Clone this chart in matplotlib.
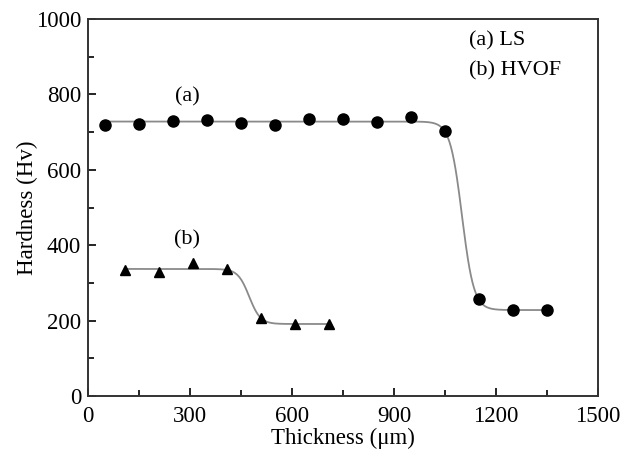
import numpy as np
import matplotlib.pyplot as plt
from matplotlib.ticker import MultipleLocator

plt.rcParams['font.family'] = ['Liberation Serif', 'DejaVu Serif']
plt.rcParams['mathtext.fontset'] = 'stix'

# (a) LS coating
x_ls = [50, 150, 250, 350, 450, 550, 650, 750, 850, 950, 1050, 1150, 1250, 1350]
hv_ls = [720, 722, 730, 733, 724, 718, 735, 736, 726, 740, 703, 256, 228, 228]

# (b) HVOF coating
x_hvof = [110, 210, 310, 410, 510, 610, 710]
hv_hvof = [335, 330, 352, 336, 207, 190, 192]

# Boltzmann fit parameters (A1, A2, x0, dx)
fit_ls = (728, 228, 1100, 17.5)
fit_hvof = (337, 191, 474, 16.5)


def boltzmann(x, a1, a2, x0, dx):
    return a2 + (a1 - a2) / (1 + np.exp((x - x0) / dx))


fig = plt.figure(figsize=(6.34, 4.57), dpi=100)
ax = fig.add_axes([88 / 634, 1 - 396 / 457, 510 / 634, 377 / 457])

xs = np.linspace(x_ls[0], x_ls[-1], 600)
ax.plot(xs, boltzmann(xs, *fit_ls), color='#8a8a8a', lw=1.3, zorder=1)
xs = np.linspace(x_hvof[0], x_hvof[-1], 400)
ax.plot(xs, boltzmann(xs, *fit_hvof), color='#8a8a8a', lw=1.3, zorder=1)

ax.plot(x_ls, hv_ls, 'o', color='black', ms=8, zorder=2)
ax.plot(x_hvof, hv_hvof, '^', color='black', ms=7, zorder=2)

ax.text(291, 793, '(a)', fontsize=16, ha='center', va='center')
ax.text(291, 414, '(b)', fontsize=16, ha='center', va='center')
ax.text(1120, 942, '(a) LS', fontsize=16, ha='left', va='center')
ax.text(1120, 863, '(b) HVOF', fontsize=16, ha='left', va='center')

ax.set_xlim(0, 1500)
ax.set_ylim(0, 1000)
ax.xaxis.set_major_locator(MultipleLocator(300))
ax.xaxis.set_minor_locator(MultipleLocator(150))
ax.yaxis.set_major_locator(MultipleLocator(200))
ax.yaxis.set_minor_locator(MultipleLocator(100))
ax.tick_params(which='both', direction='in', top=False, right=False, labelsize=16.5, width=1.2)
ax.tick_params(axis='x', pad=7)
ax.tick_params(axis='y', pad=5)
ax.tick_params(which='major', length=6)
ax.tick_params(which='minor', length=4)
for s in ax.spines.values():
    s.set_linewidth(1.4)
    s.set_color('#333333')

ax.set_xlabel('Thickness (\u03bcm)', fontsize=16.5, labelpad=1)
ax.set_ylabel('Hardness (Hv)', fontsize=16.5, labelpad=-2)

fig.savefig('out.png', dpi=100)
